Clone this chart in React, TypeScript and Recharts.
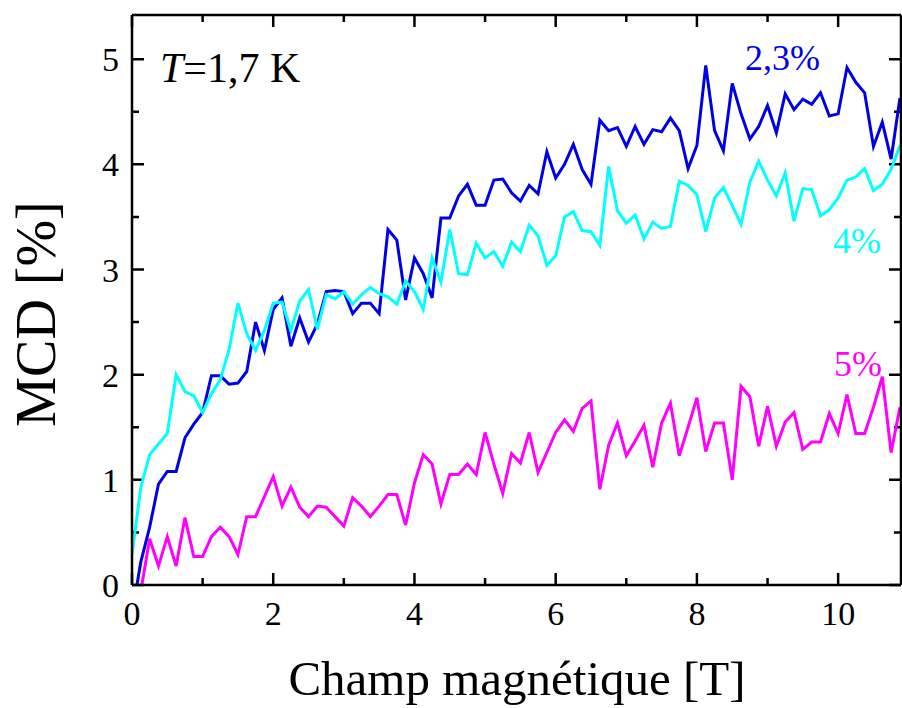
import { LineChart, Line, XAxis, YAxis } from 'recharts';

const FONT = '"Liberation Serif", "Times New Roman", serif';

// champ magnétique [T], one sample every 0.125 T
const FIELD = [
  0, 0.125, 0.25, 0.375, 0.5, 0.625, 0.75, 0.875,
  1, 1.125, 1.25, 1.375, 1.5, 1.625, 1.75, 1.875,
  2, 2.125, 2.25, 2.375, 2.5, 2.625, 2.75, 2.875,
  3, 3.125, 3.25, 3.375, 3.5, 3.625, 3.75, 3.875,
  4, 4.125, 4.25, 4.375, 4.5, 4.625, 4.75, 4.875,
  5, 5.125, 5.25, 5.375, 5.5, 5.625, 5.75, 5.875,
  6, 6.125, 6.25, 6.375, 6.5, 6.625, 6.75, 6.875,
  7, 7.125, 7.25, 7.375, 7.5, 7.625, 7.75, 7.875,
  8, 8.125, 8.25, 8.375, 8.5, 8.625, 8.75, 8.875,
  9, 9.125, 9.25, 9.375, 9.5, 9.625, 9.75, 9.875,
  10, 10.125, 10.25, 10.375, 10.5, 10.625, 10.75, 10.875,
];

// MCD [%] for the 2,3% sample (blue)
const MCD_23 = [
  -0.28, 0.22, 0.55, 0.96, 1.08, 1.08, 1.4, 1.53,
  1.64, 1.99, 1.99, 1.91, 1.92, 2.03, 2.5, 2.23,
  2.62, 2.73, 2.27, 2.54, 2.31, 2.48, 2.79, 2.8,
  2.79, 2.58, 2.68, 2.68, 2.58, 3.38, 3.28, 2.71,
  3.11, 2.96, 2.73, 3.49, 3.49, 3.7, 3.81, 3.61,
  3.61, 3.85, 3.86, 3.73, 3.65, 3.8, 3.72, 4.12,
  3.87, 4.0, 4.19, 3.95, 3.81, 4.42, 4.32, 4.35,
  4.17, 4.36, 4.19, 4.33, 4.31, 4.44, 4.32, 3.96,
  4.18, 4.94, 4.32, 4.13, 4.77, 4.48, 4.24, 4.36,
  4.56, 4.3, 4.67, 4.52, 4.62, 4.57, 4.68, 4.46,
  4.48, 4.92, 4.78, 4.68, 4.17, 4.4, 4.05, 4.63,
];

// 4% sample (cyan)
const MCD_4 = [
  0.29, 0.93, 1.24, 1.34, 1.44, 2.0, 1.84, 1.8,
  1.64, 1.82, 1.95, 2.24, 2.68, 2.39, 2.23, 2.42,
  2.68, 2.69, 2.42, 2.7, 2.81, 2.43, 2.76, 2.72,
  2.79, 2.67, 2.76, 2.83, 2.77, 2.74, 2.67, 2.89,
  2.79, 2.62, 3.11, 2.88, 3.38, 2.96, 2.95, 3.25,
  3.11, 3.17, 3.03, 3.26, 3.17, 3.42, 3.32, 3.04,
  3.13, 3.5, 3.55, 3.37, 3.36, 3.23, 3.98, 3.56,
  3.44, 3.52, 3.29, 3.45, 3.39, 3.41, 3.84, 3.8,
  3.71, 3.36, 3.68, 3.78, 3.61, 3.43, 3.83, 4.03,
  3.85, 3.7, 3.92, 3.46, 3.77, 3.76, 3.51, 3.57,
  3.68, 3.85, 3.88, 3.96, 3.75, 3.81, 3.95, 4.18,
];

// 5% sample (magenta)
const MCD_5 = [
  null, -0.06, 0.44, 0.18, 0.46, 0.18, 0.64, 0.27,
  0.27, 0.46, 0.55, 0.46, 0.29, 0.65, 0.65, 0.84,
  1.03, 0.75, 0.93, 0.74, 0.65, 0.75, 0.74, 0.65,
  0.56, 0.83, 0.75, 0.65, 0.75, 0.86, 0.86, 0.57,
  0.97, 1.24, 1.15, 0.77, 1.05, 1.05, 1.15, 1.05,
  1.45, 1.15, 0.87, 1.25, 1.16, 1.45, 1.07, 1.26,
  1.45, 1.57, 1.46, 1.68, 1.75, 0.91, 1.33, 1.54,
  1.23, 1.37, 1.52, 1.12, 1.54, 1.73, 1.23, 1.5,
  1.78, 1.27, 1.54, 1.54, 1.0, 1.89, 1.79, 1.32,
  1.7, 1.32, 1.55, 1.64, 1.29, 1.36, 1.36, 1.63,
  1.44, 1.81, 1.44, 1.44, 1.69, 1.98, 1.26, 1.69,
];

const X_MAJOR = [0, 2, 4, 6, 8, 10];
const X_MINOR = [1, 3, 5, 7, 9];
const Y_MAJOR = [0, 1, 2, 3, 4, 5];
const Y_MINOR = [0.5, 1.5, 2.5, 3.5, 4.5];
const X_DOMAIN: [number, number] = [0, 10.89];
const Y_DOMAIN: [number, number] = [0, 5.42];

const data = FIELD.map((b, i) => ({ b, c23: MCD_23[i], c4: MCD_4[i], c5: MCD_5[i] }));

// plot frame that follows from the chart size, margins and axis sizes below
const W = 902;
const H = 708;
const MARGIN = { top: 15, right: 1, bottom: 0, left: 0 };
const X_AXIS_H = 123;
const Y_AXIS_W = 132;
const FRAME = {
  left: MARGIN.left + Y_AXIS_W,
  right: W - MARGIN.right,
  top: MARGIN.top,
  bottom: H - MARGIN.bottom - X_AXIS_H,
};

const axisPen = { stroke: '#000', strokeWidth: 2.5 };
const tickFont = { fontSize: 34, fill: '#000', fontFamily: FONT };

// inward tick marks on all four sides of the frame (major 12 px, minor 7 px)
const px = (v: number) => FRAME.left + ((v - X_DOMAIN[0]) / (X_DOMAIN[1] - X_DOMAIN[0])) * (FRAME.right - FRAME.left);
const py = (v: number) => FRAME.bottom - ((v - Y_DOMAIN[0]) / (Y_DOMAIN[1] - Y_DOMAIN[0])) * (FRAME.bottom - FRAME.top);
const xTickSpecs = [...X_MAJOR.map((v) => [v, 12]), ...X_MINOR.map((v) => [v, 7])];
const yTickSpecs = [...Y_MAJOR.map((v) => [v, 12]), ...Y_MINOR.map((v) => [v, 7])];

export default function App() {
  return (
    <div style={{ position: 'absolute', left: 0, top: 0, width: W, height: H, background: '#fff' }}>
      <LineChart width={W} height={H} data={data} margin={MARGIN}>
        <XAxis
          xAxisId="b"
          type="number"
          dataKey="b"
          domain={X_DOMAIN}
          allowDataOverflow
          ticks={X_MAJOR}
          interval={0}
          tickLine={false}
          tickSize={0}
          tickMargin={16}
          height={X_AXIS_H}
          axisLine={axisPen}
          tick={tickFont}
        />
        <XAxis xAxisId="t" dataKey="b" orientation="top" type="number" domain={X_DOMAIN} allowDataOverflow mirror height={1}
          tick={false} tickLine={false} axisLine={axisPen} />

        <YAxis
          yAxisId="l"
          type="number"
          domain={Y_DOMAIN}
          allowDataOverflow
          ticks={Y_MAJOR}
          interval={0}
          tickLine={false}
          tickSize={0}
          tickMargin={13}
          width={Y_AXIS_W}
          axisLine={axisPen}
          tick={tickFont}
        />
        <YAxis yAxisId="r" orientation="right" type="number" domain={Y_DOMAIN} allowDataOverflow mirror width={1}
          tick={false} tickLine={false} axisLine={axisPen} />

        <Line xAxisId="b" yAxisId="l" type="linear" dataKey="c5" stroke="#ff00ff" strokeWidth={3} dot={false} isAnimationActive={false} />
        <Line xAxisId="b" yAxisId="l" type="linear" dataKey="c23" stroke="#0000e6" strokeWidth={3} dot={false} isAnimationActive={false} />
        <Line xAxisId="b" yAxisId="l" type="linear" dataKey="c4" stroke="#00ffff" strokeWidth={3} dot={false} isAnimationActive={false} />

        <path
          d={[
            ...xTickSpecs.map(([v, len]) =>
              `M${px(v)},${FRAME.bottom}V${FRAME.bottom - len}M${px(v)},${FRAME.top}V${FRAME.top + len}`),
            ...yTickSpecs.map(([v, len]) =>
              `M${FRAME.left},${py(v)}H${FRAME.left + len}M${FRAME.right},${py(v)}H${FRAME.right - len}`),
          ].join('')}
          stroke="#000"
          strokeWidth={2.5}
          fill="none"
        />

        <text x={517} y={695} textAnchor="middle" fontSize={49} fontFamily={FONT} fill="#000">
          Champ magnétique [T]
        </text>
        <text x={55} y={314} transform="rotate(-90 55 314)" textAnchor="middle" fontSize={56} fontFamily={FONT} fill="#000">
          MCD [%]
        </text>
        <text x={160} y={82} fontSize={42} fontFamily={FONT} fill="#000">
          <tspan fontStyle="italic">T</tspan>=1,7 K
        </text>
        <text x={745} y={70} fontSize={36} fontFamily={FONT} fill="#0000e6">2,3%</text>
        <text x={833} y={253} fontSize={36} fontFamily={FONT} fill="#00ffff">4%</text>
        <text x={834} y={376} fontSize={36} fontFamily={FONT} fill="#ff00ff">5%</text>
      </LineChart>
    </div>
  );
}
